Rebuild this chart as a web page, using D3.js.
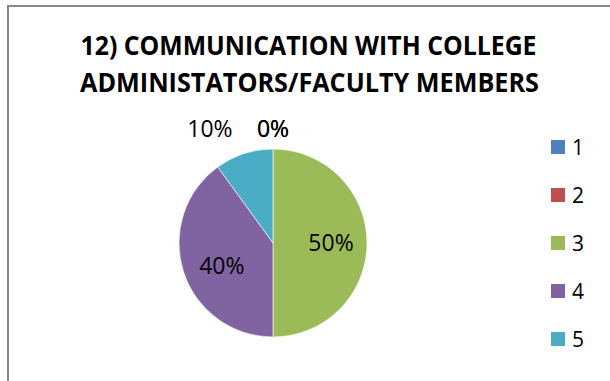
<!DOCTYPE html>
<html><head><meta charset="utf-8">
<script src="https://cdn.jsdelivr.net/npm/d3@7"></script>
<style>html,body{margin:0;padding:0;background:#fff;overflow:hidden}svg{display:block}</style>
</head><body>
<svg id="c" width="610" height="381"></svg>
<script>
const titleLines = ["12) COMMUNICATION WITH COLLEGE", "ADMINISTATORS/FACULTY MEMBERS"];
const categories = ["1", "2", "3", "4", "5"];
const values = [0, 0, 50, 40, 10];
const labels = ["0%", "0%", "50%", "40%", "10%"];
const colors = ["#4f81bd", "#c0504d", "#9bbb59", "#8064a2", "#4bacc6"];

const svg = d3.select("#c");
const font = "'Open Sans', 'Liberation Sans', sans-serif";

svg.append("rect").attr("x", 8).attr("y", 6).attr("width", 620).attr("height", 400)
  .attr("fill", "#fff").attr("stroke", "#878787").attr("stroke-width", 2);

// title
const tBase = [55, 92];
const tLeft = [80.5, 80];
const tWidth = [456, 459];
titleLines.forEach((t, i) => {
  svg.append("text").attr("x", tLeft[i]).attr("y", tBase[i])
    .attr("text-anchor", "start").attr("font-family", font).attr("font-weight", "bold")
    .attr("font-size", 26).attr("textLength", tWidth[i]).attr("lengthAdjust", "spacingAndGlyphs")
    .attr("fill", "#000").text(t);
});

const cx = 273, cy = 243, R = 94;
const pie = d3.pie().sort(null).value(d => d)(values);
const arc = d3.arc().innerRadius(0).outerRadius(R);
const g = svg.append("g").attr("transform", `translate(${cx},${cy})`);
g.selectAll("path").data(pie).join("path")
  .attr("d", arc).attr("fill", (d, i) => colors[i])
  .attr("stroke", "#fff").attr("stroke-width", d => d.value > 0 ? 0.6 : 0);

const inner = d3.arc().innerRadius(58).outerRadius(58);
const outer = d3.arc().innerRadius(121).outerRadius(121);
pie.forEach((d, i) => {
  const isOut = d.endAngle - d.startAngle < 0.7;
  let [x, y] = (isOut ? outer : inner).centroid(d);
  let anchor = "middle";
  if (isOut) {
    y = Math.max(y, -114);
    if (x < -10) { anchor = "end"; x -= 3; }
  } else if (x < 0) {
    x += 4; y += 5;
  }
  g.append("text").attr("x", x).attr("y", y).attr("dy", "0.36em")
    .attr("text-anchor", anchor).attr("font-family", font).attr("font-size", 23)
    .attr("fill", "#000").text(labels[i]);
});

// legend
const ly = d3.scalePoint().domain(categories).range([147, 339]);
const lg = svg.append("g");
categories.forEach((c, i) => {
  lg.append("rect").attr("x", 551).attr("y", ly(c) - 7).attr("width", 14).attr("height", 14)
    .attr("fill", colors[i]);
  lg.append("text").attr("x", 572).attr("y", ly(c)).attr("dy", "0.36em")
    .attr("font-family", font).attr("font-size", 21).attr("fill", "#000").text(c);
});
</script>
</body></html>
